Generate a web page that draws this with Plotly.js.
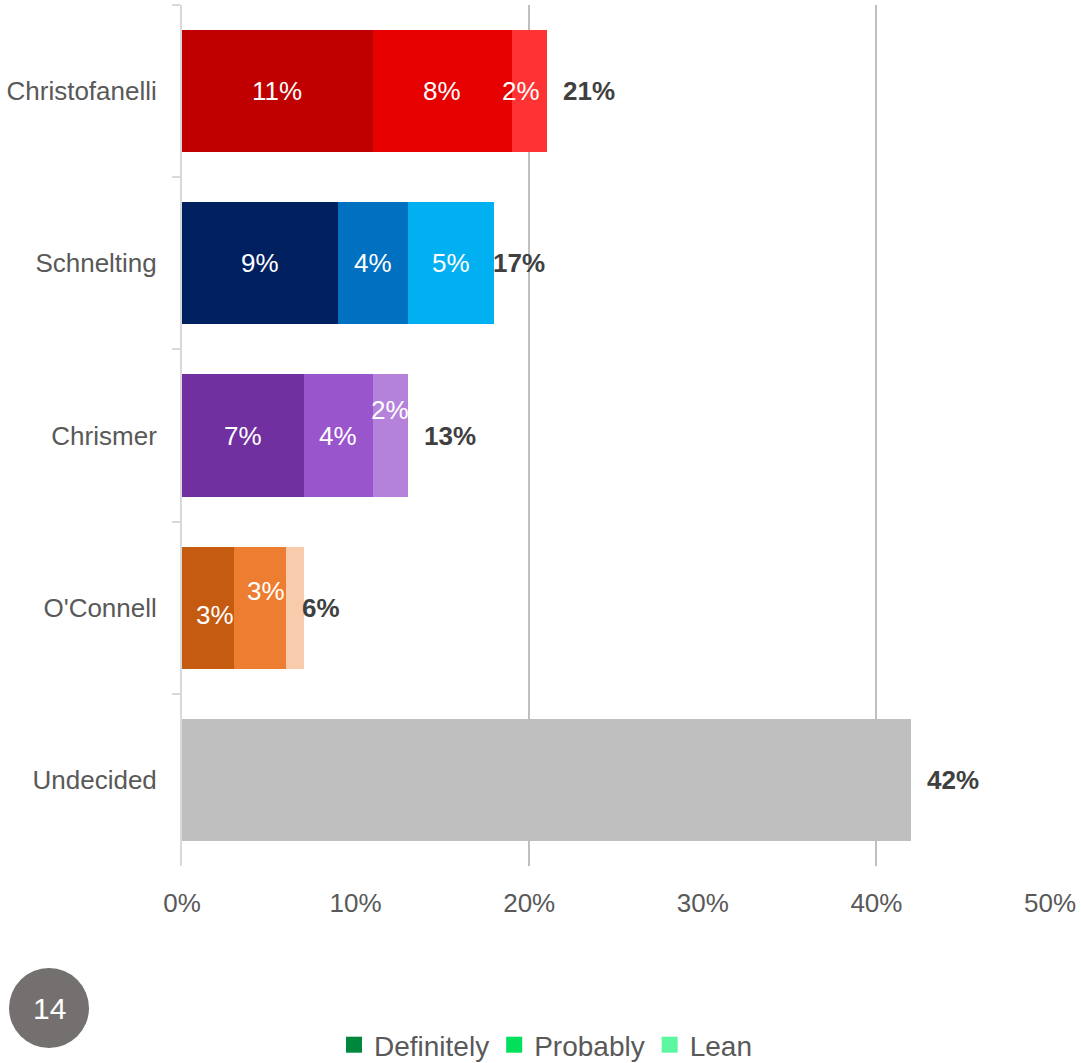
<!DOCTYPE html>
<html>
<head>
<meta charset="utf-8">
<script src="https://cdn.plot.ly/plotly-3.0.1.min.js"></script>
<style>html,body{margin:0;padding:0;background:#fff;}#chart{width:1081px;height:1063px;}</style>
</head>
<body>
<div id="chart"></div>
<script>
// ---- data ----
var candidates = ["Christofanelli", "Schnelting", "Chrismer", "O'Connell", "Undecided"];
var definitely = [11, 9, 7, 3, 42];
var probably   = [8, 4, 4, 3, 0];
var lean       = [2, 5, 2, 1, 0];
var definitelyLabels = ["11%", "9%", "7%", "3%", ""];
var probablyLabels   = ["8%", "4%", "4%", "3%", ""];
var leanLabels       = ["2%", "5%", "2%", "", ""];
var totals      = [21, 17, 13, 6, 42];
var totalLabels = ["21%", "17%", "13%", "6%", "42%"];
var seriesNames = ["Definitely", "Probably", "Lean"];
var xTickVals = [0, 10, 20, 30, 40, 50];
var xTickText = ["0%", "10%", "20%", "30%", "40%", "50%"];
var gridVals = [20, 40];
var pageNumber = "14";

// ---- styles ----
var FONT = "Liberation Sans, Arial, sans-serif";
var defColors  = ["#C00000", "#002060", "#7030A0", "#C55A11", "#BFBFBF"];
var probColors = ["#E60000", "#0070C0", "#9955CC", "#ED7D31", "#BFBFBF"];
var leanColors = ["#FF3333", "#00B0F0", "#B482DB", "#F8CBAD", "#BFBFBF"];
var legendColors = ["#00873E", "#00E05A", "#5CF7A0"];
// label nudges (px) replicating the reference's label placement
var defShift  = [0, 0, 0, -7, 0];
var probShift = [0, 0, 0, 17, 0];
var leanShift = [0, 0, 26, 0, 0];
var leanXShift = [-8, 0, 0, 0, 0];
var defXShift = [0, 0, 0, 7, 0];
var probXShift = [0, 0, 0, 6, 0];

var common = {type: "bar", orientation: "h", y: candidates, showlegend: false, hoverinfo: "skip"};
var traces = [
  Object.assign({}, common, {name: seriesNames[0], x: definitely, marker: {color: defColors, line: {width: 0}}}),
  Object.assign({}, common, {name: seriesNames[1], x: probably, marker: {color: probColors, line: {width: 0}}}),
  Object.assign({}, common, {name: seriesNames[2], x: lean, marker: {color: leanColors, line: {width: 0}}})
];
// legend-only entries
seriesNames.forEach(function (n, i) {
  traces.push({type: "scatter", mode: "markers", name: n, x: [null], y: [null],
    marker: {color: legendColors[i], symbol: "square", size: 16}, showlegend: true, hoverinfo: "skip"});
});

var annotations = [];
function addInside(vals, base, labels, shifts, xshifts) {
  for (var i = 0; i < candidates.length; i++) {
    if (!labels[i]) continue;
    annotations.push({x: base[i] + vals[i] / 2, y: candidates[i], xref: "x", yref: "y",
      text: labels[i], showarrow: false, xanchor: "center", yanchor: "middle",
      yshift: shifts[i], xshift: xshifts[i],
      font: {family: FONT, size: 26, color: "#FFFFFF"}});
  }
}
var zeros = candidates.map(function () { return 0; });
var base2 = definitely.slice();
var base3 = definitely.map(function (d, i) { return d + probably[i]; });
addInside(definitely, zeros, definitelyLabels, defShift, defXShift);
addInside(probably, base2, probablyLabels, probShift, probXShift);
addInside(lean, base3, leanLabels, leanShift, leanXShift);
for (var i = 0; i < candidates.length; i++) {
  annotations.push({x: totals[i], y: candidates[i], xref: "x", yref: "y",
    text: totalLabels[i], showarrow: false, xanchor: "left", yanchor: "middle",
    xshift: 14, font: {family: FONT, size: 26, color: "#404040", weight: 600}});
}
// page number
var circX = (49 - 182) / 868, circY = (866 - 1008) / 861;
annotations.push({x: circX, y: circY, xref: "paper", yref: "paper", text: pageNumber,
  showarrow: false, xanchor: "center", yanchor: "middle",
  font: {family: FONT, size: 30, color: "#FFFFFF"}});

var layout = {
  width: 1081, height: 1063,
  margin: {l: 182, r: 31, t: 5, b: 197, pad: 0, autoexpand: false},
  paper_bgcolor: "#FFFFFF", plot_bgcolor: "rgba(0,0,0,0)",
  barmode: "stack", bargap: 0.29,
  font: {family: FONT, size: 26, color: "#595959"},
  xaxis: {range: [0, 50], tickvals: xTickVals, ticktext: xTickText, showgrid: false,
    zeroline: false, showline: false, ticks: "", ticklabelstandoff: 19,
    tickfont: {family: FONT, size: 26, color: "#595959"}, fixedrange: true},
  xaxis2: {overlaying: "x", range: [0, 50], tickvals: gridVals, showgrid: true,
    gridcolor: "#BFBFBF", gridwidth: 2, showticklabels: false, zeroline: false,
    showline: false, ticks: "", side: "bottom"},
  yaxis: {autorange: "reversed", type: "category", showline: true, linecolor: "#D9D9D9",
    linewidth: 2, ticks: "outside", tickson: "boundaries", ticklen: 8, tickcolor: "#D9D9D9",
    tickwidth: 2, showgrid: false, zeroline: false, ticklabelstandoff: 18,
    tickfont: {family: FONT, size: 26, color: "#595959"}},
  legend: {orientation: "h", x: (334 - 182) / 868, xanchor: "left", y: -(1045 - 866) / 861,
    yanchor: "middle", font: {family: FONT, size: 28, color: "#595959"},
    itemclick: false, itemdoubleclick: false, traceorder: "normal", itemwidth: 30},
  shapes: [{type: "circle", xref: "paper", yref: "paper", xsizemode: "pixel", ysizemode: "pixel",
    xanchor: circX, yanchor: circY, x0: -40, x1: 40, y0: -40, y1: 40,
    fillcolor: "#747070", line: {width: 0}}],
  annotations: annotations,
  showlegend: true
};
// dummy trace for overlay grid axis
traces.push({type: "scatter", x: [null], y: [null], xaxis: "x2", yaxis: "y", showlegend: false, hoverinfo: "skip"});

Plotly.newPlot("chart", traces, layout, {displayModeBar: false, staticPlot: true});
</script>
</body>
</html>
